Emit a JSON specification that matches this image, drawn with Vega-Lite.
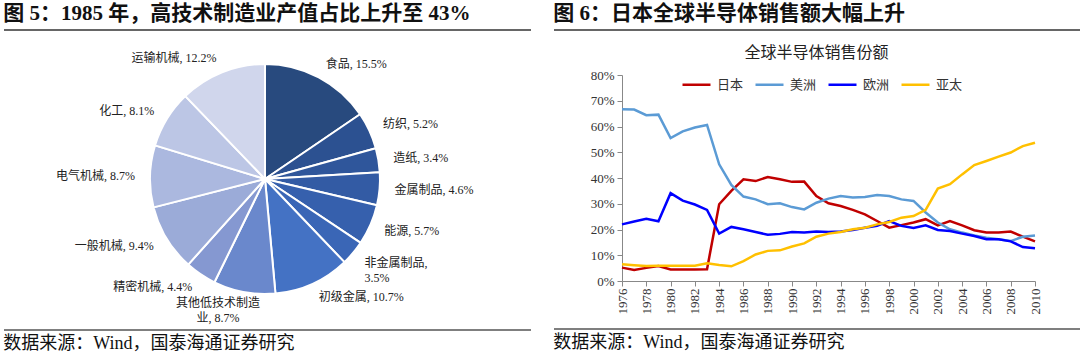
{
  "$schema": "https://vega.github.io/schema/vega-lite/v6.json",
  "padding": {"left": 3, "top": 3, "right": 0, "bottom": 0},
  "background": "white",
  "config": {"view": {"stroke": null}, "font": "Liberation Serif, Noto Sans CJK SC"},
  "resolve": {"scale": {"color": "independent"}, "legend": {"color": "independent"}},
  "spacing": 21,
  "hconcat": [
    {
      "spacing": 14,
      "vconcat": [
        {
          "width": 527, "height": 1,
          "title": {"text": "图 5：1985 年，高技术制造业产值占比上升至 43%", "anchor": "start", "orient": "top", "fontSize": 21, "fontWeight": "bold", "font": "Liberation Serif, Noto Sans CJK SC", "color": "#111", "offset": 5},
          "data": {"values": [{}]},
          "mark": {"type": "rule", "stroke": "#333", "strokeWidth": 1.5},
          "encoding": {"y": {"value": 0}}
        },
        {
          "spacing": 4,
          "vconcat": [
            {
              "width": 522, "height": 268,
              "data": {"values": [
                {"cat": "食品", "share": 15.5, "label": "食品, 15.5%"},
                {"cat": "纺织", "share": 5.2, "label": "纺织, 5.2%"},
                {"cat": "造纸", "share": 3.4, "label": "造纸, 3.4%"},
                {"cat": "金属制品", "share": 4.6, "label": "金属制品, 4.6%"},
                {"cat": "能源", "share": 5.7, "label": "能源, 5.7%"},
                {"cat": "非金属制品", "share": 3.5, "label": "非金属制品,\n3.5%"},
                {"cat": "初级金属", "share": 10.7, "label": "初级金属, 10.7%"},
                {"cat": "其他低技术制造业", "share": 8.7, "label": "其他低技术制造\n业, 8.7%"},
                {"cat": "精密机械", "share": 4.4, "label": "精密机械, 4.4%"},
                {"cat": "一般机械", "share": 9.4, "label": "一般机械, 9.4%"},
                {"cat": "电气机械", "share": 8.7, "label": "电气机械, 8.7%"},
                {"cat": "化工", "share": 8.1, "label": "化工, 8.1%"},
                {"cat": "运输机械", "share": 12.2, "label": "运输机械, 12.2%"}
              ]},
              "transform": [
                {"stack": "share", "groupby": [], "as": ["s0", "s1"]},
                {"calculate": "(datum.s0 + datum.s1) / 2", "as": "mid"}
              ],
              "layer": [
                {
                  "mark": {"type": "arc", "outerRadius": 115, "stroke": "#ffffff", "strokeWidth": 2},
                  "encoding": {
                    "theta": {"field": "s0", "type": "quantitative", "stack": null, "scale": {"domain": [0, 100.1]}},
                    "theta2": {"field": "s1"},
                    "color": {"field": "cat", "type": "nominal", "legend": null, "scale": {
                      "domain": ["食品", "纺织", "造纸", "金属制品", "能源", "非金属制品", "初级金属", "其他低技术制造业", "精密机械", "一般机械", "电气机械", "化工", "运输机械"],
                      "range": ["#284A7E", "#2C5191", "#2F569B", "#335BA4", "#3660AD", "#3A66B6", "#4472C4", "#6A88CC", "#8598D1", "#9BABD8", "#ABB8DF", "#BCC6E5", "#D0D6EC"]}}
                  }
                },
                {
                  "transform": [{"filter": "datum.mid < 47"}],
                  "mark": {"type": "text", "radius": 130, "align": "left", "baseline": "middle", "lineBreak": "\n", "lineHeight": 15, "fontSize": 12, "font": "Liberation Serif, Noto Sans CJK SC", "color": "#222"},
                  "encoding": {
                    "theta": {"field": "mid", "type": "quantitative", "stack": null, "scale": {"domain": [0, 100.1]}},
                    "text": {"field": "label"}
                  }
                },
                {
                  "transform": [{"filter": "datum.mid >= 47 && datum.mid < 56"}],
                  "mark": {"type": "text", "radius": 121, "dx": -25, "align": "center", "baseline": "top", "lineBreak": "\n", "lineHeight": 15, "fontSize": 12, "font": "Liberation Serif, Noto Sans CJK SC", "color": "#222"},
                  "encoding": {
                    "theta": {"field": "mid", "type": "quantitative", "stack": null, "scale": {"domain": [0, 100.1]}},
                    "text": {"field": "label"}
                  }
                },
                {
                  "transform": [{"filter": "datum.mid >= 56"}],
                  "mark": {"type": "text", "radius": 130, "align": "right", "baseline": "middle", "lineBreak": "\n", "lineHeight": 15, "fontSize": 12, "font": "Liberation Serif, Noto Sans CJK SC", "color": "#222"},
                  "encoding": {
                    "theta": {"field": "mid", "type": "quantitative", "stack": null, "scale": {"domain": [0, 100.1]}},
                    "text": {"field": "label"}
                  }
                }
              ]
            },
            {
              "width": 527, "height": 1,
              "title": {"text": "数据来源：Wind，国泰海通证券研究", "orient": "bottom", "anchor": "start", "fontSize": 18, "fontWeight": "normal", "font": "Liberation Serif, Noto Sans CJK SC", "color": "#111", "offset": 4},
              "data": {"values": [{}]},
              "mark": {"type": "rule", "stroke": "#555", "strokeWidth": 1.5},
              "encoding": {"y": {"value": 0}}
            }
          ]
        }
      ]
    },
    {
      "spacing": 14,
      "resolve": {"scale": {"color": "independent"}, "legend": {"color": "independent"}},
      "vconcat": [
        {
          "width": 527, "height": 1,
          "title": {"text": "图 6：日本全球半导体销售额大幅上升", "anchor": "start", "orient": "top", "fontSize": 21, "fontWeight": "bold", "font": "Liberation Serif, Noto Sans CJK SC", "color": "#111", "offset": 5},
          "data": {"values": [{}]},
          "mark": {"type": "rule", "stroke": "#333", "strokeWidth": 1.5},
          "encoding": {"y": {"value": 0}}
        },
        {
          "width": 481, "height": 206,
          "title": {"text": "全球半导体销售份额", "fontSize": 16, "font": "Noto Sans CJK SC", "fontWeight": "normal", "color": "#222", "offset": 8, "dx": 22, "anchor": "middle", "frame": "group"},
          "data": {"values": [
            {"year": 1976, "region": "日本", "share": 0.052}, {"year": 1977, "region": "日本", "share": 0.043}, {"year": 1978, "region": "日本", "share": 0.051}, {"year": 1979, "region": "日本", "share": 0.058}, {"year": 1980, "region": "日本", "share": 0.045}, {"year": 1981, "region": "日本", "share": 0.045}, {"year": 1982, "region": "日本", "share": 0.045}, {"year": 1983, "region": "日本", "share": 0.046}, {"year": 1984, "region": "日本", "share": 0.298}, {"year": 1985, "region": "日本", "share": 0.35}, {"year": 1986, "region": "日本", "share": 0.395}, {"year": 1987, "region": "日本", "share": 0.388}, {"year": 1988, "region": "日本", "share": 0.404}, {"year": 1989, "region": "日本", "share": 0.395}, {"year": 1990, "region": "日本", "share": 0.385}, {"year": 1991, "region": "日本", "share": 0.386}, {"year": 1992, "region": "日本", "share": 0.33}, {"year": 1993, "region": "日本", "share": 0.302}, {"year": 1994, "region": "日本", "share": 0.291}, {"year": 1995, "region": "日本", "share": 0.276}, {"year": 1996, "region": "日本", "share": 0.259}, {"year": 1997, "region": "日本", "share": 0.233}, {"year": 1998, "region": "日本", "share": 0.207}, {"year": 1999, "region": "日本", "share": 0.217}, {"year": 2000, "region": "日本", "share": 0.227}, {"year": 2001, "region": "日本", "share": 0.24}, {"year": 2002, "region": "日本", "share": 0.216}, {"year": 2003, "region": "日本", "share": 0.233}, {"year": 2004, "region": "日本", "share": 0.216}, {"year": 2005, "region": "日本", "share": 0.197}, {"year": 2006, "region": "日本", "share": 0.188}, {"year": 2007, "region": "日本", "share": 0.188}, {"year": 2008, "region": "日本", "share": 0.192}, {"year": 2009, "region": "日本", "share": 0.172}, {"year": 2010, "region": "日本", "share": 0.154},
            {"year": 1976, "region": "美洲", "share": 0.667}, {"year": 1977, "region": "美洲", "share": 0.666}, {"year": 1978, "region": "美洲", "share": 0.644}, {"year": 1979, "region": "美洲", "share": 0.646}, {"year": 1980, "region": "美洲", "share": 0.555}, {"year": 1981, "region": "美洲", "share": 0.581}, {"year": 1982, "region": "美洲", "share": 0.596}, {"year": 1983, "region": "美洲", "share": 0.606}, {"year": 1984, "region": "美洲", "share": 0.453}, {"year": 1985, "region": "美洲", "share": 0.373}, {"year": 1986, "region": "美洲", "share": 0.328}, {"year": 1987, "region": "美洲", "share": 0.317}, {"year": 1988, "region": "美洲", "share": 0.298}, {"year": 1989, "region": "美洲", "share": 0.302}, {"year": 1990, "region": "美洲", "share": 0.287}, {"year": 1991, "region": "美洲", "share": 0.278}, {"year": 1992, "region": "美洲", "share": 0.304}, {"year": 1993, "region": "美洲", "share": 0.32}, {"year": 1994, "region": "美洲", "share": 0.33}, {"year": 1995, "region": "美洲", "share": 0.324}, {"year": 1996, "region": "美洲", "share": 0.326}, {"year": 1997, "region": "美洲", "share": 0.334}, {"year": 1998, "region": "美洲", "share": 0.33}, {"year": 1999, "region": "美洲", "share": 0.317}, {"year": 2000, "region": "美洲", "share": 0.311}, {"year": 2001, "region": "美洲", "share": 0.266}, {"year": 2002, "region": "美洲", "share": 0.227}, {"year": 2003, "region": "美洲", "share": 0.201}, {"year": 2004, "region": "美洲", "share": 0.188}, {"year": 2005, "region": "美洲", "share": 0.177}, {"year": 2006, "region": "美洲", "share": 0.168}, {"year": 2007, "region": "美洲", "share": 0.162}, {"year": 2008, "region": "美洲", "share": 0.155}, {"year": 2009, "region": "美洲", "share": 0.172}, {"year": 2010, "region": "美洲", "share": 0.177},
            {"year": 1976, "region": "欧洲", "share": 0.22}, {"year": 1977, "region": "欧洲", "share": 0.231}, {"year": 1978, "region": "欧洲", "share": 0.242}, {"year": 1979, "region": "欧洲", "share": 0.232}, {"year": 1980, "region": "欧洲", "share": 0.341}, {"year": 1981, "region": "欧洲", "share": 0.312}, {"year": 1982, "region": "欧洲", "share": 0.297}, {"year": 1983, "region": "欧洲", "share": 0.276}, {"year": 1984, "region": "欧洲", "share": 0.184}, {"year": 1985, "region": "欧洲", "share": 0.21}, {"year": 1986, "region": "欧洲", "share": 0.201}, {"year": 1987, "region": "欧洲", "share": 0.19}, {"year": 1988, "region": "欧洲", "share": 0.18}, {"year": 1989, "region": "欧洲", "share": 0.183}, {"year": 1990, "region": "欧洲", "share": 0.19}, {"year": 1991, "region": "欧洲", "share": 0.188}, {"year": 1992, "region": "欧洲", "share": 0.192}, {"year": 1993, "region": "欧洲", "share": 0.19}, {"year": 1994, "region": "欧洲", "share": 0.192}, {"year": 1995, "region": "欧洲", "share": 0.198}, {"year": 1996, "region": "欧洲", "share": 0.207}, {"year": 1997, "region": "欧洲", "share": 0.214}, {"year": 1998, "region": "欧洲", "share": 0.233}, {"year": 1999, "region": "欧洲", "share": 0.214}, {"year": 2000, "region": "欧洲", "share": 0.206}, {"year": 2001, "region": "欧洲", "share": 0.216}, {"year": 2002, "region": "欧洲", "share": 0.198}, {"year": 2003, "region": "欧洲", "share": 0.194}, {"year": 2004, "region": "欧洲", "share": 0.184}, {"year": 2005, "region": "欧洲", "share": 0.175}, {"year": 2006, "region": "欧洲", "share": 0.162}, {"year": 2007, "region": "欧洲", "share": 0.162}, {"year": 2008, "region": "欧洲", "share": 0.154}, {"year": 2009, "region": "欧洲", "share": 0.132}, {"year": 2010, "region": "欧洲", "share": 0.127},
            {"year": 1976, "region": "亚太", "share": 0.065}, {"year": 1977, "region": "亚太", "share": 0.061}, {"year": 1978, "region": "亚太", "share": 0.058}, {"year": 1979, "region": "亚太", "share": 0.059}, {"year": 1980, "region": "亚太", "share": 0.059}, {"year": 1981, "region": "亚太", "share": 0.059}, {"year": 1982, "region": "亚太", "share": 0.059}, {"year": 1983, "region": "亚太", "share": 0.069}, {"year": 1984, "region": "亚太", "share": 0.062}, {"year": 1985, "region": "亚太", "share": 0.057}, {"year": 1986, "region": "亚太", "share": 0.077}, {"year": 1987, "region": "亚太", "share": 0.103}, {"year": 1988, "region": "亚太", "share": 0.117}, {"year": 1989, "region": "亚太", "share": 0.119}, {"year": 1990, "region": "亚太", "share": 0.134}, {"year": 1991, "region": "亚太", "share": 0.146}, {"year": 1992, "region": "亚太", "share": 0.172}, {"year": 1993, "region": "亚太", "share": 0.184}, {"year": 1994, "region": "亚太", "share": 0.19}, {"year": 1995, "region": "亚太", "share": 0.201}, {"year": 1996, "region": "亚太", "share": 0.207}, {"year": 1997, "region": "亚太", "share": 0.22}, {"year": 1998, "region": "亚太", "share": 0.229}, {"year": 1999, "region": "亚太", "share": 0.246}, {"year": 2000, "region": "亚太", "share": 0.252}, {"year": 2001, "region": "亚太", "share": 0.276}, {"year": 2002, "region": "亚太", "share": 0.359}, {"year": 2003, "region": "亚太", "share": 0.376}, {"year": 2004, "region": "亚太", "share": 0.414}, {"year": 2005, "region": "亚太", "share": 0.45}, {"year": 2006, "region": "亚太", "share": 0.466}, {"year": 2007, "region": "亚太", "share": 0.483}, {"year": 2008, "region": "亚太", "share": 0.499}, {"year": 2009, "region": "亚太", "share": 0.524}, {"year": 2010, "region": "亚太", "share": 0.537}
          ]},
          "mark": {"type": "line", "strokeWidth": 2.5},
          "encoding": {
            "x": {"field": "year", "type": "quantitative", "scale": {"domain": [1976, 2010], "nice": false, "zero": false, "range": [68, 481]},
              "axis": {"values": [1976, 1978, 1980, 1982, 1984, 1986, 1988, 1990, 1992, 1994, 1996, 1998, 2000, 2002, 2004, 2006, 2008, 2010], "format": "d", "labelAngle": -90, "labelFlush": false, "labelOverlap": false, "title": null, "grid": false, "domainColor": "#888", "tickColor": "#888", "tickSize": 5, "labelFont": "Liberation Serif", "labelFontSize": 13, "labelColor": "#333", "labelPadding": 2}},
            "y": {"field": "share", "type": "quantitative", "scale": {"domain": [0, 0.8], "nice": false},
              "axis": {"values": [0, 0.1, 0.2, 0.3, 0.4, 0.5, 0.6, 0.7, 0.8], "format": ".0%", "title": null, "grid": false, "offset": -68, "domainColor": "#888", "tickColor": "#888", "tickSize": 5, "labelFont": "Liberation Serif", "labelFontSize": 13, "labelColor": "#333", "labelPadding": 3}},
            "color": {"field": "region", "type": "nominal", "scale": {"domain": ["日本", "美洲", "欧洲", "亚太"], "range": ["#C00000", "#5B9BD5", "#0000FF", "#FFC000"]},
              "legend": {"orient": "none", "legendX": 127, "legendY": -6, "direction": "horizontal", "title": null, "symbolType": "stroke", "symbolSize": 784, "symbolStrokeWidth": 2.5, "labelFont": "Noto Sans CJK SC", "labelFontSize": 13, "labelColor": "#333", "labelOffset": 5, "columnPadding": 6}}
          }
        },
        {
          "width": 527, "height": 1,
          "title": {"text": "数据来源：Wind，国泰海通证券研究", "orient": "bottom", "anchor": "start", "fontSize": 18, "fontWeight": "normal", "font": "Liberation Serif, Noto Sans CJK SC", "color": "#111", "offset": 4},
          "data": {"values": [{}]},
          "mark": {"type": "rule", "stroke": "#555", "strokeWidth": 1.5},
          "encoding": {"y": {"value": 0}}
        }
      ]
    }
  ]
}
